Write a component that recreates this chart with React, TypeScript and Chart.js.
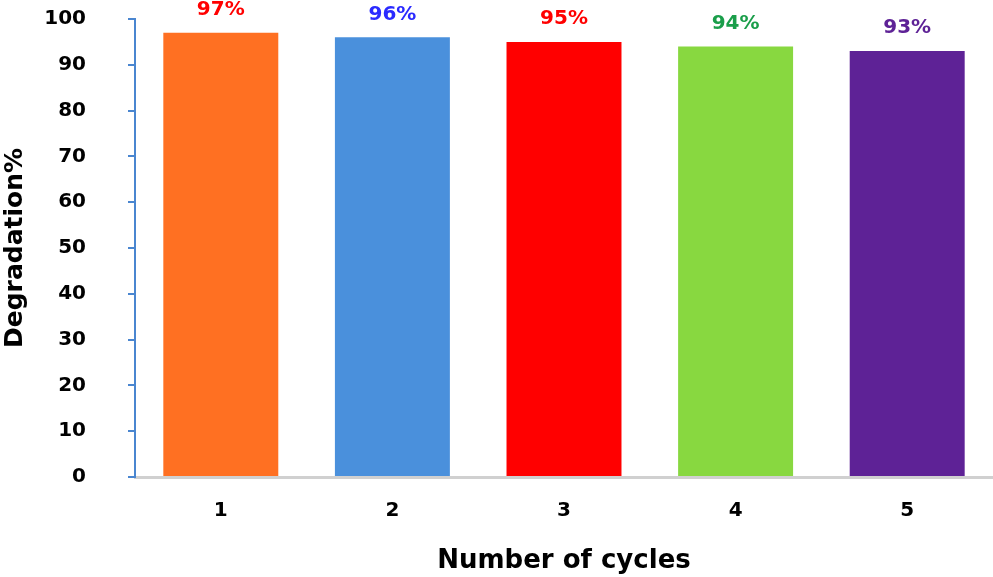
import React, { useEffect, useRef } from "react";
import { Chart, registerables } from "chart.js";

Chart.register(...registerables);

const categories = ["1", "2", "3", "4", "5"];
const degradation = [97, 96, 95, 94, 93];
const valueLabels = ["97%", "96%", "95%", "94%", "93%"];
const barColors = ["#FF7022", "#4A90DC", "#FF0000", "#88D840", "#5E2296"];
const labelColors = ["#FF0000", "#2A2AFF", "#FF0000", "#1A9E4A", "#5E2296"];
const yTicks = [0, 10, 20, 30, 40, 50, 60, 70, 80, 90, 100];

const FONT = "'DejaVu Sans', sans-serif";

const labelPlugin = {
  id: "barLabels",
  afterDatasetsDraw(chart: any) {
    const ctx = chart.ctx;
    const meta = chart.getDatasetMeta(0);
    ctx.save();
    ctx.font = `bold 20px ${FONT}`;
    ctx.textAlign = "center";
    ctx.textBaseline = "middle";
    meta.data.forEach((bar: any, i: number) => {
      ctx.fillStyle = labelColors[i];
      ctx.fillText(valueLabels[i], bar.x, bar.y - 23);
    });
    ctx.restore();
  },
};

export default function App() {
  const ref = useRef<HTMLCanvasElement>(null);
  useEffect(() => {
    if (!ref.current) return;
    const chart = new Chart(ref.current, {
      type: "bar",
      data: {
        labels: categories,
        datasets: [
          {
            data: degradation,
            backgroundColor: barColors,
            borderWidth: 0,
            categoryPercentage: 0.67,
            barPercentage: 1,
          },
        ],
      },
      options: {
        animation: false,
        responsive: true,
        maintainAspectRatio: false,
        layout: { padding: { top: 19, right: 0, left: 0, bottom: 0 } },
        plugins: { legend: { display: false }, tooltip: { enabled: false } },
        scales: {
          x: {
            afterFit: (s: any) => {
              s.height = 100;
              s.paddingLeft = 0;
              s.paddingRight = 0;
            },
            grid: { display: false, drawTicks: false },
            border: { display: true, color: "#D0D0D0", width: 3 },
            ticks: {
              color: "#000",
              font: { family: FONT, weight: "bold", size: 20 },
              padding: 22,
            },
            title: {
              display: true,
              text: "Number of cycles",
              color: "#000",
              font: { family: FONT, weight: "bold", size: 26 },
              padding: { top: 12, bottom: 0 },
            },
          },
          y: {
            min: 0,
            max: 100,
            afterFit: (s: any) => {
              s.width = 135;
              s.paddingTop = 0;
              s.paddingBottom = 0;
            },
            afterBuildTicks: (s: any) => {
              s.ticks = yTicks.map((v) => ({ value: v }));
            },
            grid: {
              drawOnChartArea: false,
              drawTicks: true,
              tickLength: 7,
              color: "#4A86D0",
              lineWidth: 2,
            },
            border: { display: true, color: "#4A86D0", width: 2 },
            ticks: {
              color: "#000",
              font: { family: FONT, weight: "bold", size: 20 },
              padding: 42,
            },
            title: {
              display: true,
              text: "Degradation%",
              color: "#000",
              font: { family: FONT, weight: "bold", size: 25 },
              padding: { top: 0, bottom: 0 },
            },
          },
        },
      },
      plugins: [labelPlugin],
    });
    return () => chart.destroy();
  }, []);
  return (
    <div style={{ position: "fixed", left: 0, top: 0, width: 993, height: 577, background: "#fff" }}>
      <canvas ref={ref} />
    </div>
  );
}
